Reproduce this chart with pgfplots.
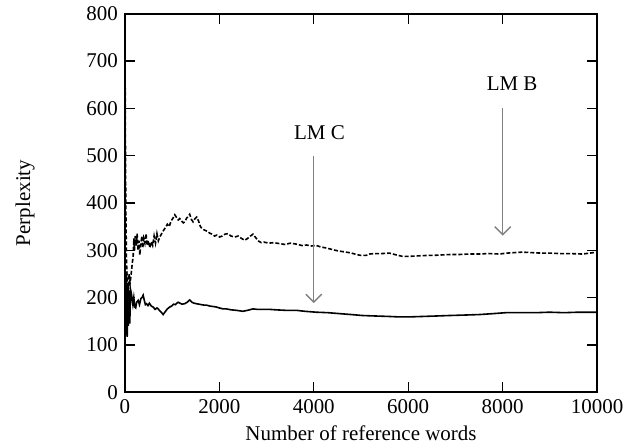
\documentclass[border=0pt]{standalone}
\usepackage{fontspec}
\setmainfont{Liberation Serif}
\usepackage{pgfplots}
\pgfplotsset{compat=1.18}
\usetikzlibrary{arrows.meta}

% perplexity against number of reference words
\pgfplotstableread{
x y
0 800
8 640
15 480
25 360
35 280
50 235
70 215
90 250
110 230
140 255
160 275
176 285
190 325
205 300
220 330
240 310
260 335
280 300
300 320
317 290
335 310
360 330
380 305
400 325
425 315
450 335
470 310
500 320
530 305
560 318
590 310
620 330
650 315
680 335
710 320
740 328
780 335
820 342
860 348
900 355
940 350
980 362
1020 368
1057 375
1090 370
1130 364
1163 367
1200 362
1240 358
1268 360
1310 368
1345 372
1374 376
1410 365
1445 360
1480 366
1522 370
1560 362
1600 350
1640 345
1700 342
1750 340
1797 336
1850 334
1900 330
1950 332
2008 328
2060 330
2120 334
2180 335
2250 330
2325 328
2400 330
2470 325
2537 321
2600 325
2660 330
2713 334
2760 328
2820 320
2890 316
2950 317
3050 315
3150 316
3277 314
3400 312
3500 315
3630 313
3750 310
3850 311
3950 309
4052 310
4150 307
4250 305
4334 303
4450 300
4550 298
4687 296
4800 294
4900 291
5000 289
5110 289
5180 292
5300 293
5450 293
5603 294
5750 290
5880 287
6000 287
6200 288
6400 289
6515 289
6700 290
6900 291
7080 291
7300 292
7500 292
7700 293
7930 292
8100 294
8250 295
8420 296
8600 295
8800 294
8990 294
9200 293
9400 293
9690 292
9850 294
10000 296
}\lmb

\pgfplotstableread{
x y
0 240
5 260
10 150
15 230
20 120
28 250
35 251
42 160
50 117
58 200
66 230
75 140
85 200
92 215
100 160
105 145
115 190
125 215
140 208
155 195
170 185
190 200
211 180
230 178
250 190
282 194
310 185
340 198
365 200
388 205
410 195
435 185
458 187
490 183
520 188
560 182
600 180
640 175
680 178
705 176
740 172
780 168
811 164
840 168
870 172
900 176
951 180
990 182
1030 186
1070 185
1100 188
1128 190
1170 188
1210 186
1268 187
1320 190
1374 195
1420 190
1470 188
1515 187
1570 186
1620 185
1680 184
1727 184
1800 182
1870 181
1938 180
2000 178
2080 176
2150 176
2250 174
2360 173
2430 172
2500 171
2600 173
2713 176
2800 175
2900 175
3065 175
3200 174
3400 173
3630 173
3800 171
4052 169
4300 168
4545 166
4800 164
5030 162
5300 161
5600 160
5814 159
6000 159
6300 160
6600 161
6870 162
7200 163
7500 164
7800 166
8070 168
8400 168
8700 168
8990 169
9300 168
9600 169
10000 169
}\lmc

\begin{document}
\begin{tikzpicture}
\begin{axis}[
    scale only axis,
    width=236.5pt,
    height=189.5pt,
    xmin=0, xmax=10000,
    ymin=0, ymax=800,
    xtick={0,2000,4000,6000,8000,10000},
    ytick={0,100,200,300,400,500,600,700,800},
    scaled x ticks=false,
    xticklabel style={/pgf/number format/set thousands separator={}},
    /pgf/number format/assume math mode=true,
    tick align=inside,
    xtick pos=both, ytick pos=both,
    major tick length=5pt,
    axis line style={line width=1pt},
    tick style={black, line width=0.7pt},
    font=\fontsize{10.5}{12}\selectfont,
    xlabel={Number of reference words},
    ylabel={Perplexity},
    xlabel style={at={(axis description cs:0.5,-0.108)}, anchor=center},
    ylabel style={at={(axis description cs:-0.211,0.5)}, anchor=center},
    clip=false,
]
\path (rel axis cs:-0.2643,-0.1372) rectangle (rel axis cs:1.0677,1.0343);

\addplot[black, line width=0.8pt, dash pattern=on 2pt off 1pt] table[x=x, y=y] {\lmb};
\addplot[black, line width=0.8pt] table[x=x, y=y] {\lmc};

\draw[gray, line width=0.7pt, -{Straight Barb[length=4pt,width=8pt]}] (axis cs:4000,500) -- (axis cs:4000,188);
\draw[gray, line width=0.7pt, -{Straight Barb[length=4pt,width=8pt]}] (axis cs:8000,600) -- (axis cs:8000,331);
\node at (axis cs:4120,548) {LM C};
\node at (axis cs:8200,652) {LM B};
\end{axis}
\end{tikzpicture}
\end{document}
